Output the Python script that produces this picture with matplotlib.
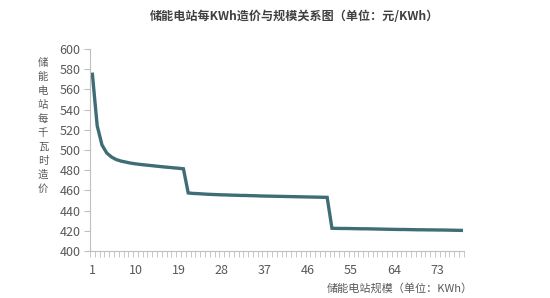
import matplotlib
matplotlib.use("Agg")
import matplotlib.pyplot as plt
from matplotlib.ticker import FixedLocator

plt.rcParams['font.family'] = ['Noto Sans CJK SC', 'DejaVu Sans']

# 储能电站规模 (KWh) 与每KWh造价 (元)
scale = list(range(1, 79))
cost = [575, 524, 505, 497, 493, 490.5, 489, 488, 487, 486.3,
        485.7, 485.2, 484.7, 484.2, 483.7, 483.2, 482.8, 482.3, 481.9, 481.4,
        457.5, 457, 456.8, 456.5, 456.2, 456, 455.8, 455.6, 455.5, 455.3,
        455.2, 455, 455, 454.8, 454.7, 454.5, 454.4, 454.3, 454.2, 454.1,
        454, 453.9, 453.8, 453.7, 453.6, 453.5, 453.4, 453.3, 453.2, 453.1,
        422.5, 422.4, 422.3, 422.3, 422.2, 422.1, 422, 422, 421.9, 421.8,
        421.7, 421.6, 421.5, 421.4, 421.3, 421.3, 421.2, 421.1, 421, 421,
        420.9, 420.9, 420.8, 420.8, 420.7, 420.6, 420.5, 420.4]
xtick_labels = [1, 10, 19, 28, 37, 46, 55, 64, 73]
yticks = list(range(400, 601, 20))

title = "储能电站每KWh造价与规模关系图（单位：元/KWh）"
ylabel = "储能电站每千瓦时造价"
xlabel = "储能电站规模（单位：KWh）"

txt = "#595959"
axc = "#bfbfbf"

fig = plt.figure(figsize=(5.5, 2.98), dpi=100)
ax = fig.add_axes([90 / 550, 1 - 251 / 298, (463.7 - 90) / 550, (251 - 49) / 298])

ax.plot(scale, cost, color="#3e6d76", lw=2.4, solid_joinstyle="miter")

ax.set_xlim(0.5, len(scale) + 0.5)
ax.set_ylim(400, 600)
ax.set_yticks(yticks)
ax.set_xticks(xtick_labels)
ax.set_xticklabels([str(v) for v in xtick_labels])
ax.xaxis.set_minor_locator(FixedLocator([i + 0.5 for i in range(0, len(scale) + 1)]))

for s in ["top", "right"]:
    ax.spines[s].set_visible(False)
for s in ["left", "bottom"]:
    ax.spines[s].set_color(axc)
    ax.spines[s].set_linewidth(0.8)

ax.tick_params(axis="y", length=4, width=0.8, color=axc, labelsize=9,
               labelcolor=txt, pad=3)
ax.tick_params(axis="x", which="major", length=0, labelsize=9,
               labelcolor=txt, pad=9)
ax.tick_params(axis="x", which="minor", length=4, width=0.6, color=axc,
               direction="out")

fig.text(294 / 550, 1 - 16 / 298, title, ha="center", va="center",
         fontsize=8.7, fontweight="bold", color="#404040")
fig.text(43 / 550, 1 - 126 / 298, "\n".join(ylabel), ha="center", va="center",
         fontsize=7.5, color=txt, linespacing=1.5)
fig.text(473 / 550, 1 - 288 / 298, xlabel, ha="right", va="center",
         fontsize=8, color=txt)

fig.savefig("out.png", dpi=100)
